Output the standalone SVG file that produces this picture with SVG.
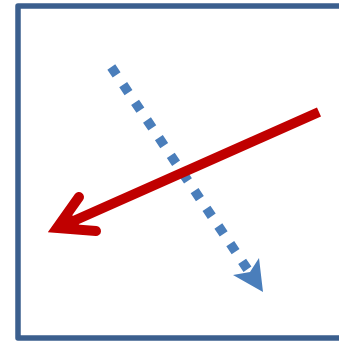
<svg xmlns="http://www.w3.org/2000/svg" width="339" height="341" viewBox="0 0 339 341">
<style>
.frame{fill:#fff;stroke:#3B5F8E;stroke-width:5.5;stroke-linejoin:round}
.red{fill:none;stroke:#C00000;stroke-width:10}
.blue{fill:none;stroke:#4A7EBB;stroke-width:9.5;stroke-dasharray:9.5 11.8}
</style>
<rect width="339" height="341" fill="#fff"/>
<g id="frame"><rect class="frame" x="18" y="6" width="400" height="332"/></g>
<g id="connectors">
<path class="blue" d="M111.3,67 L250,273"/>
<polygon points="263,292 233,275 250,272 259,258" fill="#4A7EBB"/>
<path class="red" d="M319,112 L60,227"/>
<path d="M58,228 L70,212 L80,226 Z" fill="#C00000"/>
<path class="red" d="M79,197 L57,228 L96,231" stroke-width="11" stroke-linecap="round" stroke-linejoin="miter" stroke-miterlimit="10"/>
</g>
</svg>
